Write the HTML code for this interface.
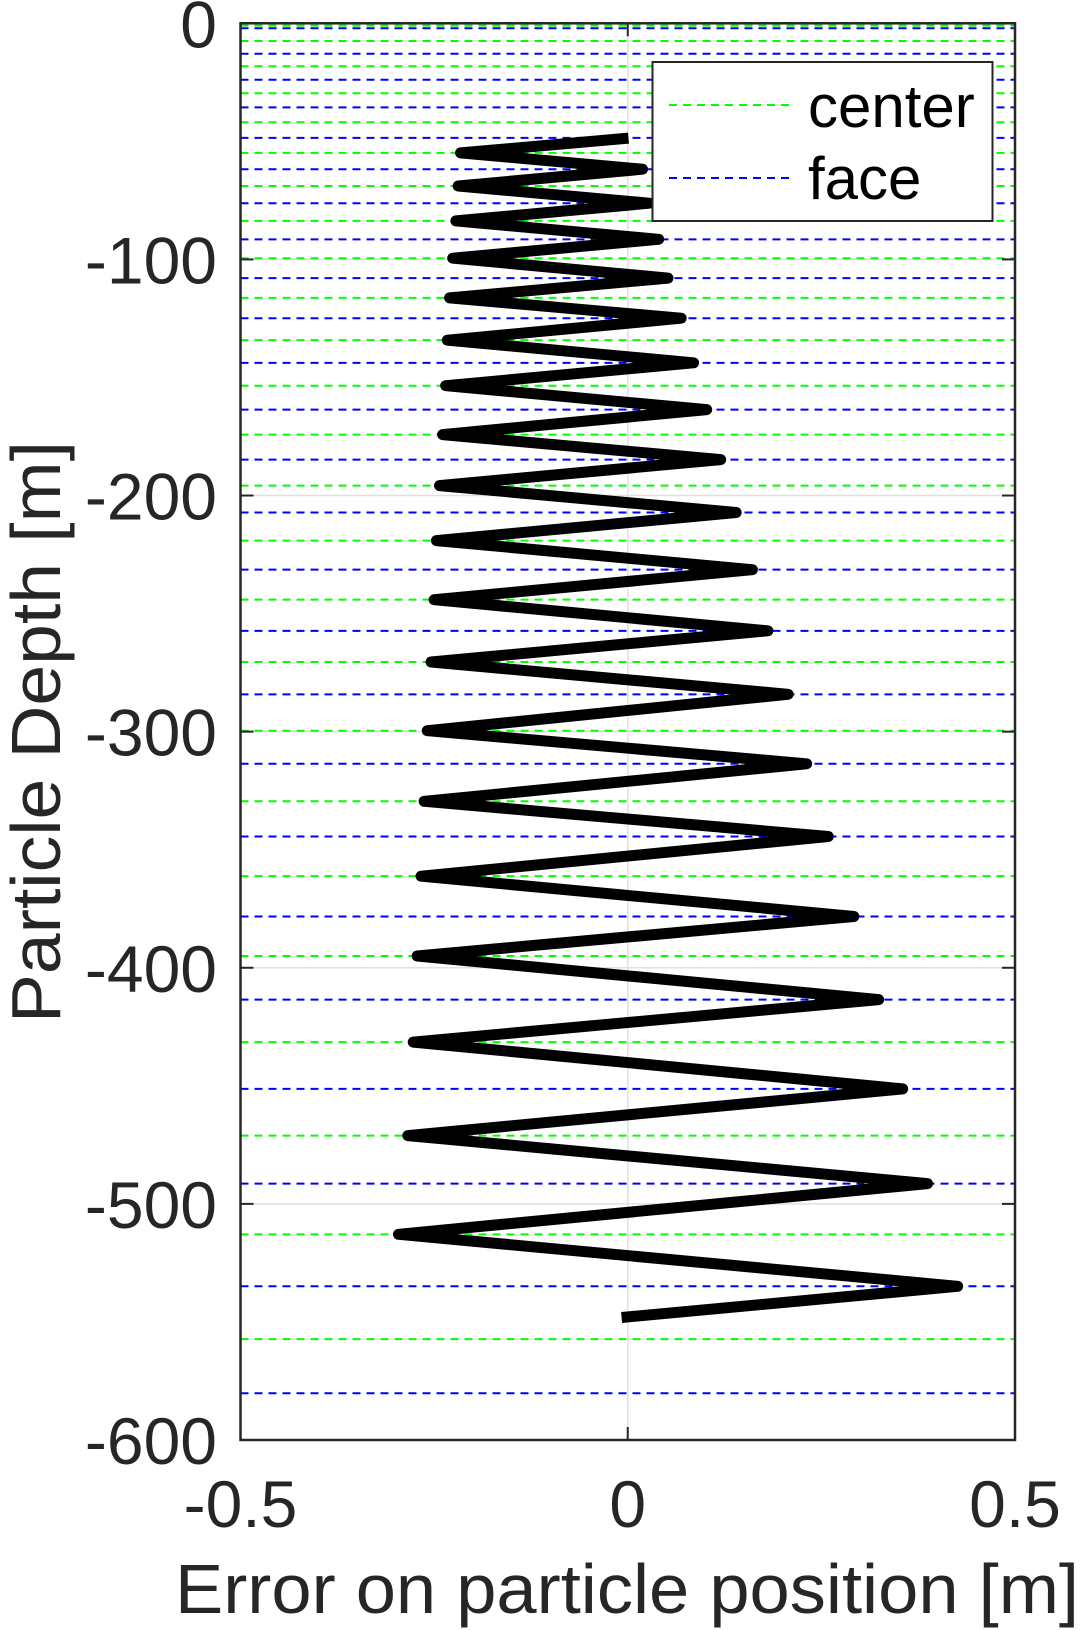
<!DOCTYPE html>
<html><head><meta charset="utf-8"><style>
html,body{margin:0;padding:0;background:#fff;}
svg{display:block;font-family:"Liberation Sans",Arial,sans-serif;}
</style></head><body>
<svg id="chart" width="1087" height="1630" viewBox="0 0 1087 1630" xmlns="http://www.w3.org/2000/svg">
<g id="grid"></g>
<g id="refs"></g>
<g id="series"></g>
<g id="axes"></g>
<g id="legend">
  <rect x="652.5" y="62" width="340" height="159" fill="#fff" stroke="#262626" stroke-width="2"/>
  <g>
    <line x1="669" y1="105" x2="795" y2="105" stroke="#00ff00" stroke-width="2" stroke-dasharray="8,6"/>
    <text x="808" y="127" font-size="60" fill="#000">center</text>
  </g>
  <g>
    <line x1="669" y1="178" x2="795" y2="178" stroke="#0000ff" stroke-width="2" stroke-dasharray="8,6"/>
    <text x="808" y="199" font-size="60" fill="#000">face</text>
  </g>
</g>
<text x="627" y="1613" font-size="70" fill="#262626" text-anchor="middle" textLength="904" lengthAdjust="spacingAndGlyphs">Error on particle position [m]</text>
<text transform="translate(60,732) rotate(-90)" font-size="70" fill="#262626" text-anchor="middle" textLength="582" lengthAdjust="spacingAndGlyphs">Particle Depth [m]</text>
</svg>
<script>
const faceDepths = [0, -2.1, -12.9, -23.9, -35.6, -48.5, -61.8, -76.2, -91.5, -107.9, -124.9, -143.8, -163.6, -184.8, -207.2, -231.4, -257.3, -284.2, -313.6, -344.4, -378.3, -413.5, -451.3, -491.4, -534.9, -580.2];
const centerDepths = [-1.0, -7.5, -18.2, -29.6, -41.9, -54.9, -68.9, -83.7, -99.5, -116.3, -134.2, -153.5, -174.2, -195.8, -219.1, -244.1, -270.5, -299.6, -329.5, -361.2, -395.0, -431.5, -471.1, -512.9, -557.3];
const errorValues = [0.001, -0.216, 0.019, -0.219, 0.028, -0.222, 0.040, -0.226, 0.052, -0.230, 0.069, -0.233, 0.085, -0.235, 0.102, -0.239, 0.120, -0.243, 0.140, -0.247, 0.161, -0.250, 0.181, -0.254, 0.207, -0.259, 0.231, -0.263, 0.259, -0.267, 0.292, -0.272, 0.324, -0.277, 0.355, -0.284, 0.387, -0.296, 0.426, -0.008];
const errorDepths = [-48.6, -54.9, -61.8, -68.9, -76.2, -83.7, -91.5, -99.5, -107.9, -116.3, -124.9, -134.2, -143.8, -153.5, -163.6, -174.2, -184.8, -195.8, -207.2, -219.1, -231.4, -244.1, -257.3, -270.5, -284.2, -299.6, -313.6, -329.5, -344.4, -361.2, -378.3, -395.0, -413.5, -431.5, -451.3, -471.1, -491.4, -512.9, -534.9, -548.1];
const xTicks = [-0.5, 0, 0.5];
const xTickLabels = ["-0.5", "0", "0.5"];
const yTicks = [0, -100, -200, -300, -400, -500, -600];
const yTickLabels = ["0", "-100", "-200", "-300", "-400", "-500", "-600"];

const L=240.5, R=1015, T=23.3, B=1440;
const X = v => L + (v + 0.5) * (R - L);
const Y = v => T + (-v / 600) * (B - T);
const NS = "http://www.w3.org/2000/svg";
function mk(tag, parent, attrs){const e=document.createElementNS(NS,tag);for(const k in attrs)e.setAttribute(k,attrs[k]);parent.appendChild(e);return e;}

const grid=document.getElementById('grid');
xTicks.forEach(t=>{
  const l=mk('line',grid,{x1:X(t),x2:X(t),y1:T,y2:B,stroke:'#e0e0e0','stroke-width':1.5});
  
  
});
yTicks.forEach(t=>{
  const l=mk('line',grid,{x1:L,x2:R,y1:Y(t),y2:Y(t),stroke:'#e0e0e0','stroke-width':1.5});
  
  
});

const refs=document.getElementById('refs');
centerDepths.forEach(d=>{
  const l=mk('line',refs,{x1:L,x2:R,y1:Y(d),y2:Y(d),stroke:'#00ff00','stroke-width':2,'stroke-dasharray':'8,6'});
  
  
});
faceDepths.forEach(d=>{
  const l=mk('line',refs,{x1:L,x2:R,y1:Y(d),y2:Y(d),stroke:'#0000ff','stroke-width':2,'stroke-dasharray':'8,6'});
  
  
});

const series=document.getElementById('series');
const pts=errorValues.map((v,i)=>X(v).toFixed(1)+','+Y(errorDepths[i]).toFixed(1)).join(' ');
const pl=mk('polyline',series,{points:pts,fill:'none',stroke:'#000','stroke-width':11,'stroke-linejoin':'round','stroke-linecap':'butt'});



const axes=document.getElementById('axes');
const box=mk('rect',axes,{x:L,y:T,width:R-L,height:B-T,fill:'none',stroke:'#262626','stroke-width':2.5});


xTicks.forEach((t,i)=>{
  mk('line',axes,{x1:X(t),x2:X(t),y1:B,y2:B-13,stroke:'#262626','stroke-width':2});
  mk('line',axes,{x1:X(t),x2:X(t),y1:T,y2:T+13,stroke:'#262626','stroke-width':2});
  const tx=mk('text',axes,{x:X(t),y:1527,'font-size':66,fill:'#262626','text-anchor':'middle'});
  tx.textContent=xTickLabels[i];
  
  
});
yTicks.forEach((t,i)=>{
  mk('line',axes,{x1:L,x2:L+13,y1:Y(t),y2:Y(t),stroke:'#262626','stroke-width':2});
  mk('line',axes,{x1:R,x2:R-13,y1:Y(t),y2:Y(t),stroke:'#262626','stroke-width':2});
  const tx=mk('text',axes,{x:217,y:Y(t)+24,'font-size':66,fill:'#262626','text-anchor':'end'});
  tx.textContent=yTickLabels[i];
  
  
});
</script>
</body></html>
